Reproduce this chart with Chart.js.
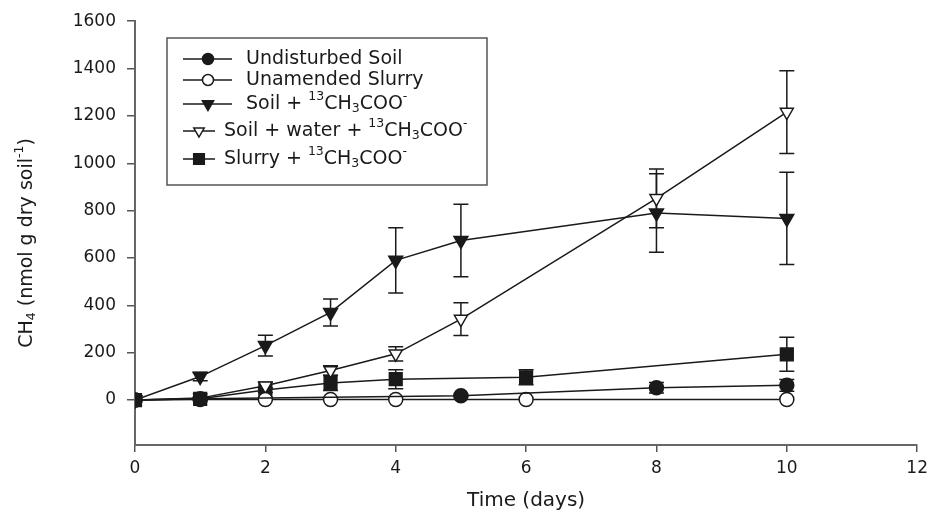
<!DOCTYPE html>
<html>
<head>
<meta charset="utf-8">
<script src="https://cdn.jsdelivr.net/npm/chart.js@4.4.1/dist/chart.umd.min.js"></script>
<style>
body { margin: 0; background: #fff; }
</style>
</head>
<body>
<canvas id="myChart" width="934" height="513"></canvas>
<script>
// valeurs (jours, moyenne, écart)
const undisturbedDays = [0, 1, 5, 8, 10];
const undisturbedVals = [0, 5, 18, 52, 62];
const undisturbedErr  = [0, 0, 4, 22, 25];

const unamendedDays = [0, 1, 2, 3, 4, 6, 10];
const unamendedVals = [0, 2, 2, 2, 2, 2, 2];
const unamendedErr  = [0, 0, 0, 0, 0, 0, 0];

const soilAcDays = [0, 1, 2, 3, 4, 5, 8, 10];
const soilAcVals = [0, 99, 230, 370, 590, 674, 790, 767];
const soilAcErr  = [0, 18, 44, 57, 138, 153, 166, 195];

const waterAcDays = [0, 1, 2, 3, 4, 5, 8, 10];
const waterAcVals = [0, 8, 60, 125, 195, 342, 852, 1216];
const waterAcErr  = [0, 0, 15, 20, 30, 69, 124, 175];

const slurryAcDays = [0, 1, 2, 3, 4, 6, 10];
const slurryAcVals = [0, 5, 42, 72, 88, 96, 193];
const slurryAcErr  = [0, 0, 10, 32, 40, 32, 72];

const xTicks = [0, 2, 4, 6, 8, 10, 12];
const yTicks = [0, 200, 400, 600, 800, 1000, 1200, 1400, 1600];

// libellés avec exposants / indices
const seriesLabels = [
    [['Undisturbed Soil', '']],
    [['Unamended Slurry', '']],
    [['Soil + ', ''], ['13', 'sup'], ['CH', ''], ['3', 'sub'], ['COO', ''], ['-', 'sup']],
    [['Soil + water + ', ''], ['13', 'sup'], ['CH', ''], ['3', 'sub'], ['COO', ''], ['-', 'sup']],
    [['Slurry + ', ''], ['13', 'sup'], ['CH', ''], ['3', 'sub'], ['COO', ''], ['-', 'sup']]
];
const yTitle = [['CH', ''], ['4', 'sub'], [' (nmol g dry soil', ''], ['-1', 'sup'], [')', '']];

const ink = '#1a1a1a';
const fontFamily = '"DejaVu Sans", sans-serif';

const toPoints = (days, vals) => days.map((d, i) => ({ x: d, y: vals[i] }));

const styles = [
    { pointStyle: 'circle', fill: ink, radius: 7, rotation: 0 },
    { pointStyle: 'circle', fill: '#fff', radius: 7, rotation: 0 },
    { pointStyle: 'triangle', fill: ink, radius: 8, rotation: 180 },
    { pointStyle: 'triangle', fill: '#fff', radius: 7.5, rotation: 180 },
    { pointStyle: 'rect', fill: ink, radius: 9, rotation: 0 }
];
const errors = [undisturbedErr, unamendedErr, soilAcErr, waterAcErr, slurryAcErr];

function makeDataset(idx, days, vals) {
    const s = styles[idx];
    return {
        label: 'serie' + idx,
        data: toPoints(days, vals),
        showLine: true,
        borderColor: ink,
        borderWidth: 1.5,
        backgroundColor: s.fill,
        pointStyle: s.pointStyle,
        pointRotation: s.rotation,
        pointRadius: s.radius,
        pointBorderWidth: 1.5,
        pointBorderColor: ink,
        pointBackgroundColor: s.fill,
        tension: 0
    };
}

function setFont(ctx, k) {
    ctx.font = (k ? '12.5px ' : '19px ') + fontFamily;
}

function richWidth(ctx, parts) {
    let w = 0;
    parts.forEach(([t, k]) => { setFont(ctx, k); w += ctx.measureText(t).width; });
    return w;
}

function drawRich(ctx, parts, x, y) {
    let cx = x;
    parts.forEach(([t, k]) => {
        setFont(ctx, k);
        let dy = 0;
        if (k === 'sup') dy = -7;
        if (k === 'sub') dy = 5;
        ctx.fillText(t, cx, y + dy);
        cx += ctx.measureText(t).width;
    });
}

// barres d'erreur dessinées avec les échelles du graphique
const errorBars = {
    id: 'errorBars',
    beforeDatasetsDraw(chart) {
        const ctx = chart.ctx;
        const yScale = chart.scales.y;
        ctx.save();
        ctx.strokeStyle = ink;
        ctx.lineWidth = 1.5;
        chart.data.datasets.forEach((ds, di) => {
            const meta = chart.getDatasetMeta(di);
            meta.data.forEach((pt, i) => {
                const e = errors[di][i];
                if (!e) return;
                const v = ds.data[i].y;
                const top = yScale.getPixelForValue(v + e);
                const bot = yScale.getPixelForValue(v - e);
                ctx.beginPath();
                ctx.moveTo(pt.x, top); ctx.lineTo(pt.x, bot);
                ctx.moveTo(pt.x - 7.5, top); ctx.lineTo(pt.x + 7.5, top);
                ctx.moveTo(pt.x - 7.5, bot); ctx.lineTo(pt.x + 7.5, bot);
                ctx.stroke();
            });
        });
        ctx.restore();
    }
};

// légende encadrée + titre de l'axe Y
const legendBox = {
    id: 'legendBox',
    afterDraw(chart) {
        const ctx = chart.ctx;
        ctx.save();
        ctx.strokeStyle = '#555';
        ctx.lineWidth = 1.5;
        ctx.strokeRect(167, 38, 320, 147);

        const rows = [59, 80, 104, 131, 159];
        const lineX = [[183, 232, 208, 246], [183, 232, 208, 246], [183, 232, 208, 246], [183, 215, 199, 224], [183, 215, 199, 224]];
        rows.forEach((y, i) => {
            const [x0, x1, mx, tx] = lineX[i];
            ctx.strokeStyle = ink;
            ctx.lineWidth = 1.5;
            ctx.beginPath();
            ctx.moveTo(x0, y); ctx.lineTo(x1, y);
            ctx.stroke();
            const s = styles[i];
            ctx.fillStyle = s.fill;
            Chart.helpers.drawPoint(ctx, {
                pointStyle: s.pointStyle, rotation: s.rotation,
                radius: s.radius - 1.5, borderWidth: 1.5
            }, mx, y);
            ctx.fillStyle = ink;
            ctx.textBaseline = 'middle';
            ctx.textAlign = 'left';
            drawRich(ctx, seriesLabels[i], tx, y);
        });

        // titre Y vertical
        ctx.translate(27, 243);
        ctx.rotate(-Math.PI / 2);
        ctx.fillStyle = ink;
        ctx.textBaseline = 'middle';
        ctx.textAlign = 'left';
        drawRich(ctx, yTitle, -richWidth(ctx, yTitle) / 2, 0);
        ctx.restore();
    }
};

const config = {
    type: 'scatter',
    data: {
        datasets: [
            makeDataset(0, undisturbedDays, undisturbedVals),
            makeDataset(1, unamendedDays, unamendedVals),
            makeDataset(2, soilAcDays, soilAcVals),
            makeDataset(3, waterAcDays, waterAcVals),
            makeDataset(4, slurryAcDays, slurryAcVals)
        ]
    },
    options: {
        responsive: false,
        animation: false,
        layout: { padding: { top: 20, right: 13, left: 0, bottom: 0 } },
        scales: {
            x: {
                type: 'linear',
                min: 0,
                max: 12,
                afterBuildTicks: (scale) => { scale.ticks = xTicks.map(v => ({ value: v })); },
                afterFit: (scale) => { scale.height = 68; },
                grid: { drawOnChartArea: false, tickLength: 7, color: '#555', lineWidth: 1.5 },
                border: { color: '#666', width: 2 },
                ticks: { color: ink, padding: 6, font: { family: fontFamily, size: 17 }, callback: v => String(v) },
                title: { display: true, text: 'Time (days)', color: ink, padding: { top: 0, bottom: 0 }, font: { family: fontFamily, size: 20 } }
            },
            y: {
                type: 'linear',
                min: -190,
                max: 1600,
                afterBuildTicks: (scale) => { scale.ticks = yTicks.map(v => ({ value: v })); },
                afterFit: (scale) => { scale.width = 135; },
                grid: { drawOnChartArea: false, tickLength: 8, color: '#555', lineWidth: 1.5 },
                border: { color: '#666', width: 2 },
                ticks: { color: ink, padding: 11, font: { family: fontFamily, size: 17 }, callback: v => String(v) }
            }
        },
        plugins: {
            legend: { display: false },
            tooltip: { enabled: false }
        }
    },
    plugins: [errorBars, legendBox]
};

let myChart = new Chart(document.getElementById('myChart'), config);
</script>
</body>
</html>
